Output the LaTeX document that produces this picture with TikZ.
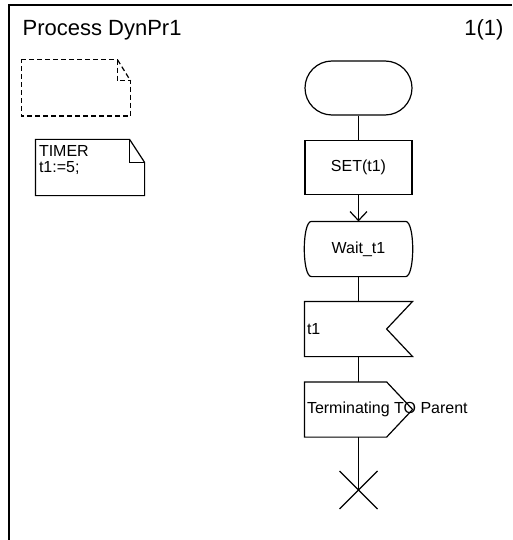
\documentclass[tikz,border=0pt]{standalone}
\usepackage{fontspec}
\setmainfont{Liberation Sans}
\usetikzlibrary{arrows.meta, positioning, shapes.misc, calc}

\tikzset{
  sym/.style={rectangle, minimum width=107pt, minimum height=54pt, inner sep=0pt, font=\fontsize{16}{18}\selectfont},
  notebox/.style={rectangle, minimum width=108pt, minimum height=55pt, inner sep=0pt},
  flow/.style={line width=1.2pt},
}

\begin{document}
\begin{tikzpicture}[x=1pt, y=-1pt, line width=1.2pt, line join=miter]
    \useasboundingbox (0,0) rectangle (512,540);
    % frame and heading
    \draw (9,540) -- (9,5) -- (512,5);
    \node[anchor=base west, inner sep=0pt, font=\fontsize{22}{26}\selectfont] (title) at (22,36) {Process DynPr1};
    \node[anchor=base east, inner sep=0pt, font=\fontsize{22}{26}\selectfont] (page) at (504,36) {1(1)};

    % text symbols
    \node[notebox] (empty) at (76,88) {};
    \draw[dash pattern=on 5pt off 3pt] (empty.north west) -- ($(empty.north east)+(-13,0)$) -- ($(empty.north east)+(-13,21)$) -- ($(empty.north east)+(0,21)$) -- (empty.south east) -- (empty.south west) -- cycle;
    \draw[dash pattern=on 5pt off 3pt] ($(empty.north east)+(-13,0)$) -- ($(empty.north east)+(0,21)$);

    \node[notebox] (timer) at (90,167.5) {};
    \draw (timer.north west) -- ($(timer.north east)+(-15,0)$) -- ($(timer.north east)+(0,23)$) -- (timer.south east) -- (timer.south west) -- cycle;
    \draw ($(timer.north east)+(-15,0)$) -- ($(timer.north east)+(-15,23)$) -- ($(timer.north east)+(0,23)$);
    \node[anchor=north west, inner sep=0pt, align=left, font=\fontsize{16}{16}\selectfont] (timertext) at ($(timer.north west)+(3,5)$) {TIMER\\t1:=5;};

    % process flow
    \node[sym, rounded rectangle, draw] (start) at (358.5,88) {};
    \node[sym, draw] (set) at (358.5,167.5) {SET(t1)};
    \node[sym] (wait) at (358.5,249) {Wait\_t1};
    \node[sym] (inp) at (358.5,329) {};
    \node[sym] (out) at (358.5,409.5) {};
    \coordinate (stop) at (358.5,490);

    \draw ($(wait.north west)+(7,0)$) -- ($(wait.north east)+(-7,0)$)
      .. controls ($(wait.north east)+(2.5,0)$) and ($(wait.south east)+(2.5,0)$) .. ($(wait.south east)+(-7,0)$)
      -- ($(wait.south west)+(7,0)$)
      .. controls ($(wait.south west)+(-2.5,0)$) and ($(wait.north west)+(-2.5,0)$) .. cycle;
    \draw (inp.north west) -- (inp.north east) -- ($(inp.east)+(-26,0)$) -- (inp.south east) -- (inp.south west) -- cycle;
    \node[anchor=west, inner sep=2pt, font=\fontsize{16}{18}\selectfont] (inplabel) at (inp.west) {t1};
    \draw (out.north west) -- ($(out.north east)+(-26,0)$) -- (out.east) -- ($(out.south east)+(-26,0)$) -- (out.south west) -- cycle;
    \node[anchor=west, inner sep=2pt, font=\fontsize{16}{18}\selectfont] (outlabel) at (out.west) {Terminating TO Parent};

    \draw (start) -- (set);
    \draw[-{Straight Barb[length=9pt, width=17pt]}] (set) -- (wait);
    \foreach \a/\b in {wait/inp, inp/out} {
      \draw (\a) -- (\b);
    }
    \draw (out) -- (stop);
    \draw ($(stop)+(-19,-19)$) -- ($(stop)+(19,19)$);
    \draw ($(stop)+(-19,19)$) -- ($(stop)+(19,-19)$);
  \end{tikzpicture}
\end{document}
